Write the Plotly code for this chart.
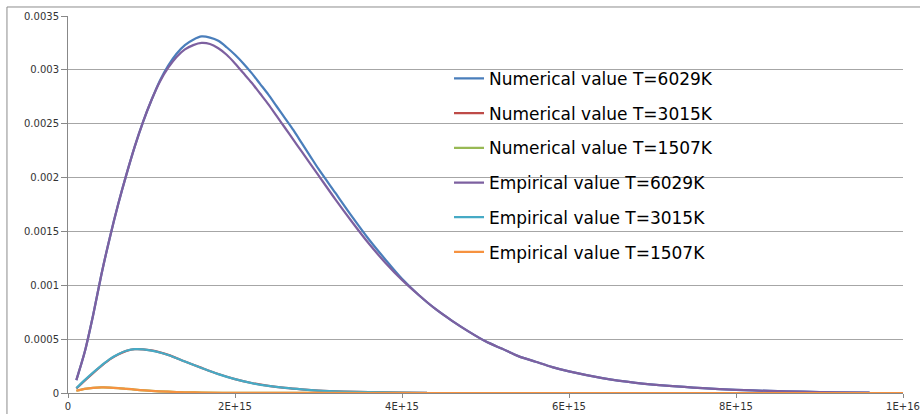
import plotly.graph_objects as go

# Spectral curves, frequency in Hz
num_6029_x = [0.1e15, 0.2e15, 0.3e15, 0.4e15, 0.5e15, 0.6e15, 0.7e15, 0.8e15, 0.9e15, 1.0e15,
              1.1e15, 1.2e15, 1.3e15, 1.4e15, 1.5e15, 1.6e15, 1.7e15, 1.8e15, 1.9e15, 2.0e15,
              2.1e15, 2.2e15, 2.3e15, 2.4e15, 2.5e15, 2.6e15, 2.7e15, 2.8e15, 2.9e15, 3.0e15,
              3.2e15, 3.4e15, 3.6e15, 3.8e15, 4.0e15, 4.2e15, 4.4e15, 4.6e15, 4.8e15, 5.0e15,
              5.2e15, 5.4e15, 5.6e15, 5.8e15, 6.0e15, 6.4e15, 6.8e15, 7.2e15, 7.6e15, 8.0e15,
              8.4e15, 8.8e15, 9.2e15, 9.6e15]
num_6029_y = [0.00012, 0.00038, 0.00072, 0.00110, 0.00144, 0.00175, 0.00203, 0.00229, 0.00252, 0.00272,
              0.00290, 0.00304, 0.00315, 0.00323, 0.00328, 0.00331, 0.00330, 0.00327, 0.00321, 0.00314,
              0.00306, 0.00297, 0.00287, 0.00277, 0.00266, 0.00255, 0.00244, 0.00232, 0.00220, 0.00208,
              0.00186, 0.00164, 0.00143, 0.00124, 0.00106, 0.00091, 0.00078, 0.00067, 0.00057, 0.00048,
              0.00041, 0.00034, 0.00029, 0.00024, 0.00020, 0.000138, 0.000095, 0.000066, 0.000045, 0.000030,
              0.000019, 0.000012, 0.000007, 0.000004]

emp_6029_x = [0.1e15, 0.2e15, 0.3e15, 0.4e15, 0.5e15, 0.6e15, 0.7e15, 0.8e15, 0.9e15, 1.0e15,
              1.1e15, 1.2e15, 1.3e15, 1.4e15, 1.5e15, 1.6e15, 1.7e15, 1.8e15, 1.9e15, 2.0e15,
              2.1e15, 2.2e15, 2.3e15, 2.4e15, 2.5e15, 2.6e15, 2.7e15, 2.8e15, 2.9e15, 3.0e15,
              3.2e15, 3.4e15, 3.6e15, 3.8e15, 4.0e15, 4.2e15, 4.4e15, 4.6e15, 4.8e15, 5.0e15,
              5.2e15, 5.4e15, 5.6e15, 5.8e15, 6.0e15, 6.4e15, 6.8e15, 7.2e15, 7.6e15, 8.0e15,
              8.4e15, 8.8e15, 9.2e15, 9.6e15]
emp_6029_y = [0.00012, 0.00038, 0.00072, 0.00110, 0.00144, 0.00175, 0.00203, 0.00229, 0.00252, 0.00272,
              0.00289, 0.00302, 0.00312, 0.00319, 0.00323, 0.00325, 0.00324, 0.00320, 0.00314, 0.00306,
              0.00297, 0.00288, 0.00278, 0.00268, 0.00257, 0.00246, 0.00235, 0.00224, 0.00213, 0.00202,
              0.00180, 0.00159, 0.00139, 0.00121, 0.00105, 0.00091, 0.00078, 0.00067, 0.00057, 0.00048,
              0.00041, 0.00034, 0.00029, 0.00024, 0.00020, 0.000138, 0.000095, 0.000066, 0.000045, 0.000030,
              0.000019, 0.000012, 0.000007, 0.000004]

num_3015_x = [0.1e15, 0.2e15, 0.3e15, 0.4e15, 0.5e15, 0.6e15, 0.7e15, 0.8e15, 0.9e15, 1.0e15,
              1.1e15, 1.2e15, 1.4e15, 1.6e15, 1.8e15, 2.0e15, 2.2e15, 2.4e15, 2.6e15, 2.8e15,
              3.0e15, 3.3e15, 3.6e15, 4.0e15, 4.3e15]
num_3015_y = [0.000042, 0.000115, 0.000185, 0.000251, 0.000312, 0.000358, 0.000391, 0.000407, 0.000406, 0.000395,
              0.000377, 0.000354, 0.000293, 0.000233, 0.000176, 0.000129, 0.000093, 0.000066, 0.000047, 0.000033,
              0.000022, 0.000013, 0.000008, 0.000004, 0.000002]

emp_3015_x = [0.1e15, 0.2e15, 0.3e15, 0.4e15, 0.5e15, 0.6e15, 0.7e15, 0.8e15, 0.9e15, 1.0e15,
              1.1e15, 1.2e15, 1.4e15, 1.6e15, 1.8e15, 2.0e15, 2.2e15, 2.4e15, 2.6e15, 2.8e15,
              3.0e15, 3.3e15, 3.6e15, 4.0e15, 4.3e15]
emp_3015_y = [0.000045, 0.000120, 0.000190, 0.000255, 0.000315, 0.000360, 0.000392, 0.000407, 0.000405, 0.000394,
              0.000376, 0.000353, 0.000292, 0.000232, 0.000175, 0.000128, 0.000092, 0.000066, 0.000047, 0.000033,
              0.000022, 0.000013, 0.000008, 0.000004, 0.000002]

num_1507_x = [0.1e15, 0.2e15, 0.3e15, 0.4e15, 0.5e15, 0.6e15, 0.7e15, 0.8e15, 1.0e15, 1.2e15,
              1.4e15, 1.6e15, 2.0e15, 3.0e15, 5.0e15, 10.0e15]
num_1507_y = [0.000021, 0.000038, 0.000048, 0.000052, 0.000051, 0.000046, 0.000039, 0.000032, 0.000020, 0.000012,
              0.000007, 0.000004, 0.0000015, 0.0000002, 0.0, 0.0]

emp_1507_x = [0.1e15, 0.2e15, 0.3e15, 0.4e15, 0.5e15, 0.6e15, 0.7e15, 0.8e15, 1.0e15, 1.2e15,
              1.4e15, 1.6e15, 2.0e15, 3.0e15, 5.0e15, 10.0e15]
emp_1507_y = [0.000021, 0.000038, 0.000048, 0.000052, 0.000051, 0.000046, 0.000039, 0.000032, 0.000020, 0.000012,
              0.000007, 0.000004, 0.0000015, 0.0000002, 0.0, 0.0]

series_names = ["Numerical value T=6029K", "Numerical value T=3015K", "Numerical value T=1507K",
                "Empirical value T=6029K", "Empirical value T=3015K", "Empirical value T=1507K"]
series_colors = ["#4A7EBB", "#BE4B48", "#98B954", "#7D60A0", "#46AAC5", "#F69240"]

y_ticks = [0, 0.0005, 0.001, 0.0015, 0.002, 0.0025, 0.003, 0.0035]
y_tick_text = ["0", "0.0005", "0.001", "0.0015", "0.002", "0.0025", "0.003", "0.0035"]
x_ticks = [0, 2e15, 4e15, 6e15, 8e15, 1e16]
x_tick_text = ["0", "2E+15", "4E+15", "6E+15", "8E+15", "1E+16"]

series = [
    (num_6029_x, num_6029_y),
    (num_3015_x, num_3015_y),
    (num_1507_x, num_1507_y),
    (emp_6029_x, emp_6029_y),
    (emp_3015_x, emp_3015_y),
    (emp_1507_x, emp_1507_y),
]

fig = go.Figure()
for i, ((xs, ys), name, color) in enumerate(zip(series, series_names, series_colors)):
    fig.add_trace(go.Scatter(
        x=xs, y=ys, name=name, mode="lines",
        line=dict(color=color, width=2.25, shape="spline", smoothing=0.8),
        legendgroup=f"g{i}",
    ))

tick_font = dict(family="DejaVu Sans", size=10, color="#333333")

fig.update_layout(
    width=920, height=414,
    margin=dict(l=68, r=17, t=16, b=21),
    paper_bgcolor="white",
    plot_bgcolor="white",
    showlegend=True,
    legend=dict(
        x=0.4563, xanchor="left",
        y=0.881, yanchor="top",
        font=dict(family="DejaVu Sans", size=17, color="#000000"),
        bgcolor="rgba(0,0,0,0)",
        tracegroupgap=9.6,
        itemwidth=30,
    ),
    xaxis=dict(
        range=[0, 1e16],
        tickvals=x_ticks, ticktext=x_tick_text,
        showgrid=False, zeroline=False,
        showline=True, linecolor="#888888", linewidth=1,
        ticks="outside", ticklen=4, tickcolor="#888888",
        tickfont=tick_font,
        automargin=False,
    ),
    yaxis=dict(
        range=[0, 0.0035],
        tickvals=y_ticks, ticktext=y_tick_text,
        showgrid=True, gridcolor="#A6A6A6", gridwidth=1,
        zeroline=False,
        showline=True, linecolor="#888888", linewidth=1,
        ticks="outside", ticklen=6, tickcolor="#888888",
        tickfont=tick_font,
        automargin=False,
    ),
    shapes=[
        # chart-area frame (top and left edges)
        dict(type="line", xref="paper", yref="paper", x0=-0.0731, x1=1.03, y0=1.0239, y1=1.0239,
             line=dict(color="#8C8C8C", width=1)),
        dict(type="line", xref="paper", yref="paper", x0=-0.0731, x1=-0.0731, y0=-0.06, y1=1.0239,
             line=dict(color="#8C8C8C", width=1)),
    ],
)

fig.write_html("out.html")
